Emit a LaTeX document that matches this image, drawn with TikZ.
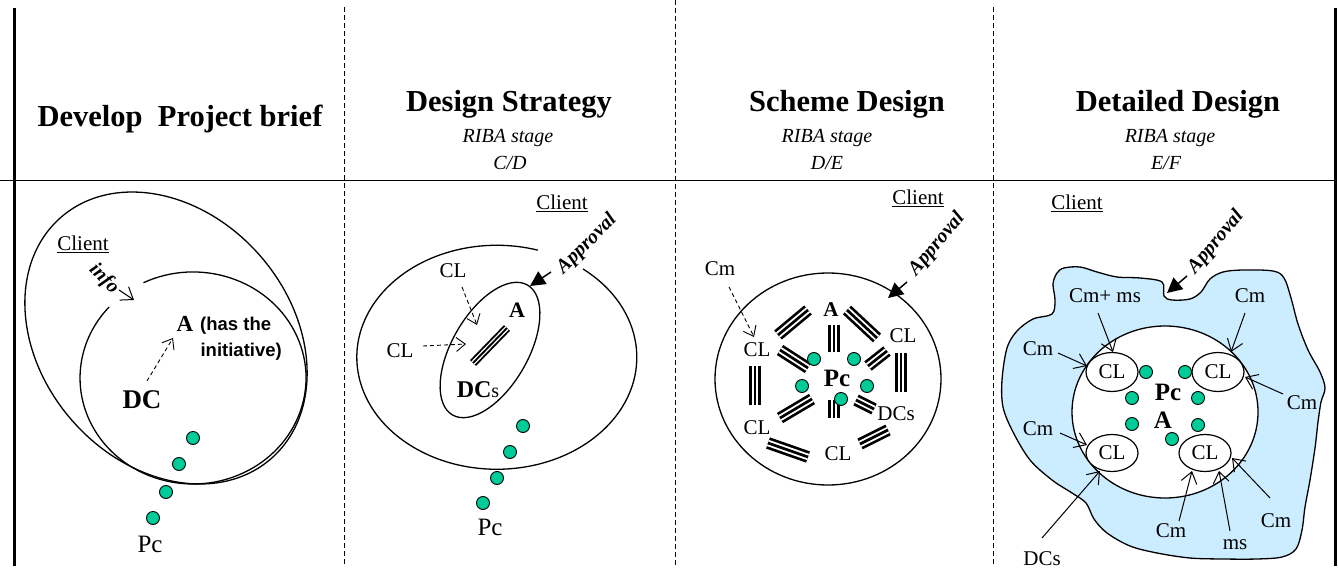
\documentclass[tikz,border=0pt]{standalone}
\usepackage{fontspec}
\setmainfont{Liberation Serif}
\newfontfamily\sansfam{Liberation Sans}
\usetikzlibrary{arrows.meta,shapes.geometric}
\definecolor{dotgreen}{RGB}{0,204,153}
\definecolor{blobblue}{RGB}{204,236,255}
\newcommand\fsz[1]{\fontsize{#1}{#1}\selectfont}
\newcommand\tribar[3]{%
  \draw[line width=#3, double distance=2.4*#3, double=white] #1 -- #2;
  \draw[line width=#3] #1 -- #2;}
\begin{document}
\begin{tikzpicture}[x=1pt,y=-1pt,
  ttl/.style={font=\bfseries\fsz{30.5}, inner sep=0, anchor=base},
  sub/.style={font=\itshape\fsz{20}, inner sep=0, anchor=base},
  lbl/.style={font=\fsz{21}, inner sep=0},
  dot/.style={circle, draw, line width=0.9pt, fill=dotgreen, minimum size=13pt, inner sep=0},
  sepline/.style={line width=0.9pt, dash pattern=on 5pt off 3pt},
  frameline/.style={line width=3pt},
  ring/.style={line width=1.3pt},
  dasharrow/.style={line width=0.9pt, dash pattern=on 4pt off 3pt, -{Straight Barb[length=9pt,width=14pt]}},
  openarrow/.style={line width=1pt, -{Straight Barb[length=11pt,width=16pt]}},
  apparrow/.style={line width=1.5pt, -{Triangle[length=15pt,width=15pt]}},
  appr/.style={font=\bfseries\itshape\fsz{20}, inner sep=0},
  clnode/.style={ellipse, draw, line width=1.2pt, fill=white, minimum width=52pt, minimum height=39pt, inner sep=0, font=\fsz{21}}
]
\useasboundingbox (0,0) rectangle (1338,569);

% ---------- frame ----------
\draw[frameline] (14,8) -- (14,566);
\draw[frameline] (1335.5,8) -- (1335.5,566);
\draw[line width=1.5pt] (0,180.5) -- (1335,180.5);
\draw[sepline] (344,7) -- (344,566);
\draw[sepline] (675,0) -- (675,566);
\draw[sepline] (993,7) -- (993,566);

% ---------- headers ----------
\node[ttl] (h1) at (180,127) {Develop\ \ Project brief};
\node[ttl] (h2) at (509,112) {Design Strategy};
\node[sub] (h2a) at (508,143) {RIBA stage};
\node[sub] (h2b) at (510,170) {C/D};
\node[ttl] (h3) at (847,112) {Scheme Design};
\node[sub] (h3a) at (827,143) {RIBA stage};
\node[sub] (h3b) at (827,170) {D/E};
\node[ttl] (h4) at (1178,112) {Detailed Design};
\node[sub] (h4a) at (1170,143) {RIBA stage};
\node[sub] (h4b) at (1166,170) {E/F};

% ---------- panel 1 ----------
\draw[ring, rotate around={-49:(166,338)}] (166,338) ellipse [x radius=160, y radius=125];
\draw[ring] (143.5,282.7) arc[start angle=-116, end angle=222, x radius=113, y radius=106];
\node[lbl] (cl1) at (83,244) {\underline{Client}};
\node[appr, rotate=-45] (info) at (104,279) {info};
\coordinate (infot) at (119,290);
\coordinate (infoh) at (134,300);
\draw[openarrow] (infot) -- (infoh);
\node[font=\bfseries\fsz{23}, inner sep=0, anchor=base] (a1) at (185,331) {A};
\node[font=\sansfam\bfseries\fsz{18.5}, inner sep=0, anchor=base west] (has) at (200,330) {(has the};
\node[font=\sansfam\bfseries\fsz{18.5}, inner sep=0, anchor=base east] (init) at (282,356) {initiative)};
\node[font=\bfseries\fsz{27}, inner sep=0, anchor=base] (dc1) at (142,408) {DC};
\coordinate (dc1t) at (147,381);
\coordinate (dc1h) at (173,338);
\draw[dasharrow] (dc1t) -- (dc1h);
\node[dot] (p1a) at (193,438) {};
\node[dot] (p1b) at (179,464) {};
\node[dot] (p1c) at (166,492) {};
\node[dot] (p1d) at (153,518) {};
\node[font=\fsz{25}, inner sep=0, anchor=base] (pc1) at (150,552) {Pc};

% ---------- panel 2 ----------
\draw[ring] (583,269) arc[start angle=-52, end angle=287, x radius=140, y radius=112];
\draw[ring, rotate around={60:(490,350)}] (490,350) ellipse [x radius=75, y radius=38];
\node[lbl] (cl2) at (562,203) {\underline{Client}};
\node[appr, rotate=45] (ap2) at (587,244) {Approval};
\coordinate (ap2t) at (551,272);
\coordinate (ap2h) at (530,286);
\draw[apparrow] (ap2t) -- (ap2h);
\node[font=\bfseries\fsz{22}, inner sep=0] (a2) at (517,310) {A};
\tribar{(473,363)}{(507,328)}{1.9pt}
\node[inner sep=0, anchor=base] (dcs2) at (478,397) {\bfseries\fsz{24}DC\mdseries\fsz{20}s};
\node[lbl, anchor=base] (clt) at (453,278) {CL};
\node[lbl, anchor=base] (cll) at (400,357) {CL};
\coordinate (cl2at) at (462,287);
\coordinate (cl2ah) at (477,325);
\coordinate (cl2bt) at (423,346);
\coordinate (cl2bh) at (466,344);
\draw[dasharrow] (cl2at) -- (cl2ah);
\draw[dasharrow] (cl2bt) -- (cl2bh);
\node[dot] (p2a) at (523,426) {};
\node[dot] (p2b) at (510,452) {};
\node[dot] (p2c) at (497,478) {};
\node[dot] (p2d) at (483,503) {};
\node[font=\fsz{25}, inner sep=0, anchor=base] (pc2) at (490,535) {Pc};

% ---------- panel 3 ----------
\draw[ring] (828,379) ellipse [x radius=113, y radius=106];
\node[lbl] (cl3) at (918,198) {\underline{Client}};
\node[appr, rotate=50] (ap3) at (937,244) {Approval};
\coordinate (ap3t) at (907,282);
\coordinate (ap3h) at (888,298);
\draw[apparrow] (ap3t) -- (ap3h);
\node[lbl] (cm3) at (720,269) {Cm};
\coordinate (cm3t) at (729,287);
\coordinate (cm3h) at (754,337);
\draw[dasharrow] (cm3t) -- (cm3h);
\tribar{(778,335)}{(808,310)}{2.7pt}
\tribar{(834,325)}{(834,352)}{2.7pt}
\tribar{(847,310)}{(877,338)}{2.7pt}
\tribar{(780,350)}{(808,368)}{2.7pt}
\tribar{(868,366)}{(887,351)}{2.7pt}
\tribar{(901,353)}{(901,392)}{2.7pt}
\tribar{(755,366)}{(755,405)}{2.7pt}
\tribar{(780,418)}{(812,399)}{2.7pt}
\tribar{(834,400)}{(834,418)}{2.7pt}
\tribar{(856,400)}{(874,409)}{2.7pt}
\tribar{(768,443)}{(808,457)}{2.7pt}
\tribar{(860,444)}{(888,430)}{2.7pt}
\node[lbl] (cl3a) at (757,350) {CL};
\node[font=\bfseries\fsz{21}, inner sep=0] (a3) at (831,310) {A};
\node[lbl] (cl3b) at (903,336) {CL};
\node[font=\bfseries\fsz{25}, inner sep=0] (pc3) at (837,378) {Pc};
\node[lbl] (dcs3) at (896,414) {DCs};
\node[lbl] (cl3c) at (757,428) {CL};
\node[lbl] (cl3d) at (838,454) {CL};
\node[dot] (p3a) at (814,359) {};
\node[dot] (p3b) at (854,359) {};
\node[dot] (p3c) at (802,386) {};
\node[dot] (p3d) at (867,386) {};
\node[dot] (p3e) at (841,399) {};

% ---------- panel 4 ----------
\draw[ring, fill=blobblue] plot[smooth cycle, tension=0.55] coordinates {
 (1162,282) (1164,296) (1172,300) (1190,299) (1201,292) (1210,279) (1223,272)
 (1243,270) (1273,271) (1284,278) (1291,298) (1298,324) (1308,350) (1320,372)
 (1325,388) (1321,402) (1318,422) (1315,448) (1310,480) (1305,507) (1302,530)
 (1296,549) (1282,557) (1257,559) (1223,559) (1190,558) (1157,553) (1130,546)
 (1107,533) (1094,519) (1086,503) (1072,493) (1052,480) (1030,460) (1013,432)
 (1003,407) (1002,380) (1007,348) (1017,331) (1033,319) (1052,314) (1055,300)
 (1053,284) (1057,273) (1064,268) (1080,267) (1097,272) (1117,277) (1140,278)};
\draw[ring, fill=white] (1165,412) ellipse [x radius=93, y radius=86];
\node[lbl] (cl4) at (1077,203) {\underline{Client}};
\node[appr, rotate=50] (ap4) at (1216,242) {Approval};
\coordinate (ap4t) at (1187,276);
\coordinate (ap4h) at (1167,293);
\draw[apparrow] (ap4t) -- (ap4h);
\node[clnode] (c4a) at (1112,372) {CL};
\node[clnode] (c4b) at (1218,372) {CL};
\node[clnode, minimum height=37pt] (c4c) at (1112,453) {CL};
\node[clnode, minimum height=37pt] (c4d) at (1205,453) {CL};
\node[font=\bfseries\fsz{25}, inner sep=0] (pc4) at (1168,392) {Pc};
\node[font=\bfseries\fsz{25}, inner sep=0] (a4) at (1163,420) {A};
\node[dot] (p4a) at (1146,372) {};
\node[dot] (p4b) at (1185,372) {};
\node[dot] (p4c) at (1132,398) {};
\node[dot] (p4d) at (1198,398) {};
\node[dot] (p4e) at (1132,424) {};
\node[dot] (p4f) at (1198,425) {};
\node[dot] (p4g) at (1172,439) {};
\node[lbl] (m1) at (1105,296) {Cm+ ms};
\node[lbl] (m2) at (1250,296) {Cm};
\node[lbl] (m3) at (1038,349) {Cm};
\node[lbl] (m4) at (1302,403) {Cm};
\node[lbl] (m5) at (1038,429) {Cm};
\node[lbl] (m6) at (1042,559) {DCs};
\node[lbl] (m7) at (1171,531) {Cm};
\node[lbl] (m8) at (1235,545) {ms};
\node[lbl] (m9) at (1276,521) {Cm};
\coordinate (s1) at (1098,313); \coordinate (t1) at (1113,352);
\coordinate (s2) at (1245,313); \coordinate (t2) at (1231,352);
\coordinate (s3) at (1058,353); \coordinate (t3) at (1087,366);
\coordinate (s4) at (1283,394); \coordinate (t4) at (1245,377);
\coordinate (s5) at (1060,433); \coordinate (t5) at (1087,445);
\coordinate (s6) at (1042,538); \coordinate (t6) at (1100,471);
\coordinate (s7) at (1179,521); \coordinate (t7) at (1192,471);
\coordinate (s8) at (1230,531); \coordinate (t8) at (1219,471);
\coordinate (s9) at (1270,498); \coordinate (t9) at (1232,458);
\foreach \i in {1,...,9} {\draw[openarrow] (s\i) -- (t\i);}
\end{tikzpicture}
\end{document}
